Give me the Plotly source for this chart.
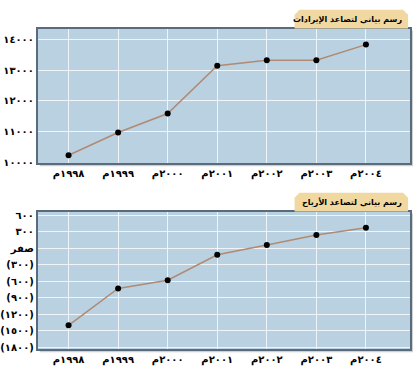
import plotly.graph_objects as go

years = ["١٩٩٨م", "١٩٩٩م", "٢٠٠٠م", "٢٠٠١م", "٢٠٠٢م", "٢٠٠٣م", "٢٠٠٤م"]
revenue = [10230, 10970, 11590, 13140, 13320, 13320, 13830]
profit = [-1400, -730, -580, -120, 60, 240, 370]

rev_ticks = [10000, 11000, 12000, 13000, 14000]
rev_labels = ["١٠٠٠٠", "١١٠٠٠", "١٢٠٠٠", "١٣٠٠٠", "١٤٠٠٠"]
prof_ticks = [600, 300, 0, -300, -600, -900, -1200, -1500, -1800]
prof_labels = ["٦٠٠", "٣٠٠", "صفر", "(٣٠٠)", "(٦٠٠)", "(٩٠٠)", "(١٢٠٠)", "(١٥٠٠)", "(١٨٠٠)"]

title_rev = "رسم بياني لتصاعد الإيرادات"
title_prof = "رسم بياني لتصاعد الأرباح"

W, H = 420, 372
LINE = "#b08a72"
BG = "#bad1e2"
FONT = "DejaVu Sans"

fig = go.Figure()
xs = list(range(len(years)))
fig.add_trace(go.Scatter(x=xs, y=revenue, mode="lines+markers", xaxis="x", yaxis="y",
                         line=dict(color=LINE, width=1.5),
                         marker=dict(color="black", size=6), showlegend=False))
fig.add_trace(go.Scatter(x=xs, y=profit, mode="lines+markers", xaxis="x2", yaxis="y2",
                         line=dict(color=LINE, width=1.5),
                         marker=dict(color="black", size=6), showlegend=False))

def px(x):
    return x / W

def py(y):
    return 1 - y / H

xdom = [px(36), px(410)]
xcommon = dict(domain=xdom, range=[-0.62, 6.89], tickmode="array", tickvals=xs, ticktext=years,
               showgrid=True, gridcolor="rgba(255,255,255,0.75)", gridwidth=1,
               showline=True, linecolor="#5b6b7e", linewidth=2, mirror=True,
               ticks="", zeroline=False,
               tickfont=dict(family=FONT, size=10, color="black", weight="bold"))
ycommon = dict(showgrid=True, gridcolor="rgba(255,255,255,0.75)", gridwidth=1,
               showline=True, linecolor="#5b6b7e", linewidth=2, mirror=True,
               ticks="", zeroline=False, tickmode="array",
               tickfont=dict(family=FONT, size=10, color="black", weight="bold"))

fig.update_layout(
    width=W, height=H, margin=dict(l=0, r=0, t=0, b=0),
    paper_bgcolor="white", plot_bgcolor="rgba(0,0,0,0)",
    xaxis=dict(anchor="y", **xcommon),
    yaxis=dict(anchor="x", domain=[py(164), py(27)], range=[9968, 14352],
               tickvals=rev_ticks, ticktext=rev_labels, **ycommon),
    xaxis2=dict(anchor="y2", **xcommon),
    yaxis2=dict(anchor="x2", domain=[py(353), py(213)], range=[-1836, 666],
                tickvals=prof_ticks, ticktext=prof_labels, **ycommon),
)

shapes = []
for (t, b) in [(27, 164), (213, 353)]:
    shapes.append(dict(type="rect", xref="paper", yref="paper",
                       x0=px(38), x1=px(413), y0=py(b + 3), y1=py(t + 2),
                       fillcolor="rgba(120,120,120,0.35)", line=dict(width=0), layer="below"))
    shapes.append(dict(type="rect", xref="paper", yref="paper",
                       x0=px(36), x1=px(410), y0=py(b), y1=py(t),
                       fillcolor=BG, line=dict(width=0), layer="below"))
for (t, b) in [(8, 27), (194, 213)]:
    shapes.append(dict(type="path", xref="paper", yref="paper",
                       path=f"M {px(294)} {py(b)} L {px(294)} {py(t+5)} L {px(299)} {py(t)} "
                            f"L {px(403)} {py(t)} L {px(408)} {py(t+5)} L {px(408)} {py(b)} Z",
                       fillcolor="#f0d8a0", line=dict(width=0), layer="above"))
fig.update_layout(shapes=shapes)

for (t, b, txt) in [(8, 27, title_rev), (194, 213, title_prof)]:
    fig.add_annotation(xref="paper", yref="paper", x=px(403), y=py((t + b) / 2),
                       text=txt, showarrow=False, xanchor="right", yanchor="middle",
                       align="right", borderpad=0,
                       font=dict(family=FONT, size=8, color="black", weight="bold"))

fig.write_html("out.html", config={"displayModeBar": False},
               post_script="document.body.style.margin='0';")
